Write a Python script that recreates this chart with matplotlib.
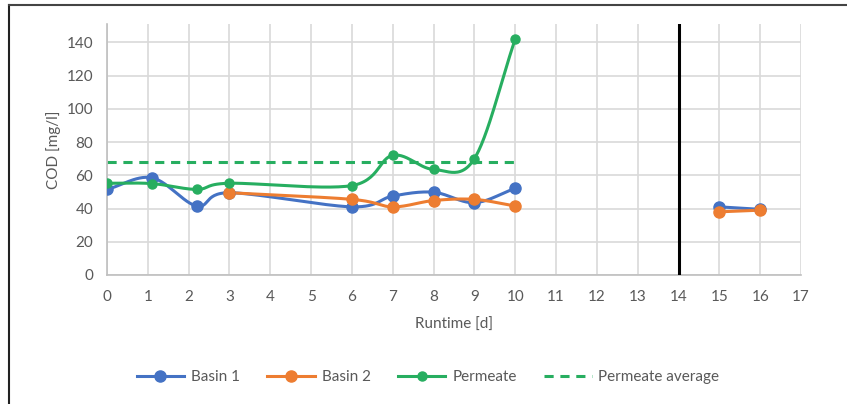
import numpy as np
import matplotlib
matplotlib.use("Agg")
from matplotlib import pyplot as plt
from matplotlib.lines import Line2D

plt.rcParams['font.family'] = ['Lato', 'DejaVu Sans']

# values
basin1_days = [0, 1.1, 2.2, 3, 6, 7, 8, 9, 10]
basin1_cod = [51.5, 58.5, 41.5, 49.5, 41, 47.5, 49.8, 43.5, 52.2]
basin1_late_days = [15, 16]
basin1_late_cod = [41, 39.5]

basin2_days = [3, 6, 7, 8, 9, 10]
basin2_cod = [49.5, 45.5, 41, 44.8, 45.5, 41.5]
basin2_late_days = [15, 16]
basin2_late_cod = [38, 39]

perm_days = [0, 1.1, 2.2, 3, 6, 7, 8, 9, 10]
perm_cod = [55.2, 55, 51.5, 55.2, 53.8, 72, 63.5, 70, 142]
perm_avg = 68.2
perm_avg_days = [0, 10]

split_day = 14

blue = '#4472C4'
orange = '#ED7D31'
green = '#27AE60'


# smoothed line like the spreadsheet "smooth line" option (catmull-rom)
def smooth(x, y, n=30):
    x = np.asarray(x, float)
    y = np.asarray(y, float)
    if len(x) < 3:
        return x, y
    px = np.concatenate([[2 * x[0] - x[1]], x, [2 * x[-1] - x[-2]]])
    py = np.concatenate([[2 * y[0] - y[1]], y, [2 * y[-1] - y[-2]]])
    xs, ys = [], []
    t = np.linspace(0, 1, n)
    for i in range(1, len(px) - 2):
        p0, p1, p2, p3 = px[i - 1], px[i], px[i + 1], px[i + 2]
        q0, q1, q2, q3 = py[i - 1], py[i], py[i + 1], py[i + 2]
        cx = 0.5 * ((2 * p1) + (-p0 + p2) * t + (2 * p0 - 5 * p1 + 4 * p2 - p3) * t ** 2 + (-p0 + 3 * p1 - 3 * p2 + p3) * t ** 3)
        cy = 0.5 * ((2 * q1) + (-q0 + q2) * t + (2 * q0 - 5 * q1 + 4 * q2 - q3) * t ** 2 + (-q0 + 3 * q1 - 3 * q2 + q3) * t ** 3)
        xs.extend(cx)
        ys.extend(cy)
    return np.array(xs), np.array(ys)


fig = plt.figure(figsize=(8.47, 4.04), dpi=100)
ax = fig.add_axes([107 / 847, 1 - 275 / 404, (801 - 107) / 847, (275 - 24) / 404])

lw = 2.2
for xs, ys, c, ms in [(basin1_days, basin1_cod, blue, 8), (basin1_late_days, basin1_late_cod, blue, 8),
                      (basin2_days, basin2_cod, orange, 8), (basin2_late_days, basin2_late_cod, orange, 8),
                      (perm_days, perm_cod, green, 6.5)]:
    sx, sy = smooth(xs, ys)
    ax.plot(sx, sy, color=c, lw=lw, solid_capstyle='round', zorder=3)
    ax.plot(xs, ys, 'o', color=c, ms=ms, zorder=4)

ax.plot(perm_avg_days, [perm_avg, perm_avg], color=green, lw=lw, ls=(0, (3, 2.2)), zorder=2)
ax.axvline(split_day, color='black', lw=2.2, zorder=5)

ax.set_xlim(0, 17)
ax.set_ylim(0, 151)
ax.set_xticks(range(0, 18))
ax.set_yticks(range(0, 141, 20))
ax.grid(True, color='#D9D9D9', lw=1.2)
ax.set_axisbelow(True)
for s in ['top', 'right']:
    ax.spines[s].set_visible(False)
ax.spines['left'].set_color('#BFBFBF')
ax.spines['bottom'].set_color('#BFBFBF')
ax.spines['left'].set_linewidth(1.2)
ax.spines['bottom'].set_linewidth(1.2)
ax.tick_params(length=0, colors='#595959', labelsize=11)
ax.tick_params(axis='x', pad=11)
ax.tick_params(axis='y', pad=10)
ax.set_xlabel('Runtime [d]', color='#595959', fontsize=11, labelpad=10)
ax.set_ylabel('COD [mg/l]', color='#595959', fontsize=11, labelpad=4)

handles = [
    Line2D([], [], color=blue, lw=lw, marker='o', ms=8),
    Line2D([], [], color=orange, lw=lw, marker='o', ms=8),
    Line2D([], [], color=green, lw=lw, marker='o', ms=6.5),
    Line2D([], [], color=green, lw=lw, ls=(0, (3, 2.2))),
]
fig.legend(handles, ['Basin 1', 'Basin 2', 'Permeate', 'Permeate average'], loc='center',
           bbox_to_anchor=(428 / 847, 1 - 377 / 404), ncol=4, frameon=False, fontsize=11,
           labelcolor='#595959', handlelength=3.1, columnspacing=1.8, handletextpad=0.45)

# outer frame (top and left edge only visible)
fig.add_artist(Line2D([9 / 847, 9 / 847], [0, 1 - 5 / 404], color='#222222', lw=1.5))
fig.add_artist(Line2D([9 / 847, 1], [1 - 5 / 404, 1 - 5 / 404], color='#444444', lw=1.5))

fig.savefig('out.png', dpi=100)
